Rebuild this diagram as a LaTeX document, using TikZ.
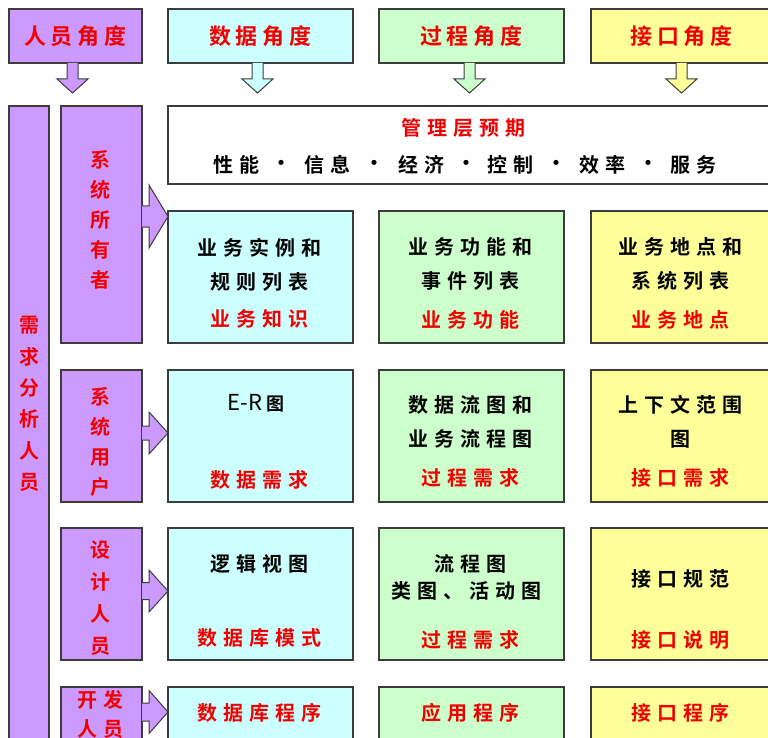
\documentclass[tikz,border=0pt]{standalone}
\usepackage{fontspec}
\setmainfont{Noto Sans CJK SC}[BoldFont={Noto Sans CJK SC Bold}]
\usetikzlibrary{calc}
\definecolor{pur}{RGB}{204,153,255}
\definecolor{cy}{RGB}{204,255,255}
\definecolor{gr}{RGB}{204,255,204}
\definecolor{ye}{RGB}{255,255,153}
\definecolor{bord}{RGB}{60,60,60}
\definecolor{rd}{RGB}{240,0,0}
\newlength\lsgap
\setlength\lsgap{7pt}
\def\ls#1{\lsFirst#1\relax}
\def\lsFirst#1{#1\lsRest}
\def\lsRest#1{\ifx#1\relax\else\hspace{\lsgap}#1\expandafter\lsRest\fi}
\newcommand\hdfont{\fontsize{22}{26}\selectfont\bfseries\setlength\lsgap{5pt}}
\newcommand\bdfont{\fontsize{20}{24}\selectfont\bfseries\setlength\lsgap{6pt}}
\newcommand\bx[7]{\node[bx,#2,minimum width={(#5-#3)*1pt},minimum height={(#6-#4)*1pt}] (#1) at ({(#3+#5)/2},{(#4+#6)/2}) {#7};}
\newcommand\darrow[3]{\filldraw[arr,#3] ($(#1)+(#2,0)$) ++(-5.5,0) -- ++(0,16) -- ++(-10,0) -- ++(15.5,14) -- ++(15.5,-14) -- ++(-10,0) -- ++(0,-16);}
\newcommand\rarrow[7]{\filldraw[arr,#7] ($(#1)+(0,#2)$) ++(0,-#3) -- ++(#5,0) -- ++(0,{#3-#4}) -- ++(#6,#4) -- ++(-#6,#4) -- ++(0,{#3-#4}) -- ++(-#5,0);}
\begin{document}
\begin{tikzpicture}[x=1pt,y=-1pt,
  bx/.style={draw=bord, line width=1.1pt, inner sep=0, outer sep=0},
  hd/.style={font=\hdfont, text=rd},
  tx/.style={inner sep=0, font=\bdfont},
  rt/.style={tx, text=rd},
  bk/.style={tx, text=black},
  vt/.style={inner sep=0, align=center, text=rd},
  arr/.style={draw=bord, line width=1pt, line join=miter}]
\fill[white] (0,0) rectangle (768,738);
\useasboundingbox (0,0) rectangle (768,738);
% header boxes
\bx{h1}{fill=pur,hd}{9}{9}{142}{63}{\ls{人员角度}}
\bx{h2}{fill=cy,hd}{168}{9}{353}{63}{\ls{数据角度}}
\bx{h3}{fill=gr,hd}{379}{9}{564}{63}{\ls{过程角度}}
\bx{h4}{fill=ye,hd}{591}{9}{772}{63}{\ls{接口角度}}
% down arrows
\darrow{h1.south}{-3}{fill=pur}
\darrow{h2.south}{-3}{fill=cy}
\darrow{h3.south}{-2}{fill=gr}
\darrow{h4.south}{0}{fill=ye}
% top white box
\bx{top}{fill=white}{168}{106}{772}{184}{}
% people columns
\bx{need}{fill=pur}{9}{106}{49}{745}{}
\bx{s1}{fill=pur}{61}{106}{142}{343}{}
\bx{s2}{fill=pur}{61}{370}{142}{502}{}
\bx{s3}{fill=pur}{61}{528}{142}{660}{}
\bx{s4}{fill=pur}{61}{687}{142}{745}{}
% content boxes
\bx{d1}{fill=cy}{168}{211}{353}{343}{}
\bx{p1}{fill=gr}{379}{211}{564}{343}{}
\bx{i1}{fill=ye}{591}{211}{772}{343}{}
\bx{d2}{fill=cy}{168}{370}{353}{502}{}
\bx{p2}{fill=gr}{379}{370}{564}{502}{}
\bx{i2}{fill=ye}{591}{370}{772}{502}{}
\bx{d3}{fill=cy}{168}{528}{353}{660}{}
\bx{p3}{fill=gr}{379}{528}{564}{660}{}
\bx{i3}{fill=ye}{591}{528}{772}{660}{}
\bx{d4}{fill=cy}{168}{687}{353}{745}{}
\bx{p4}{fill=gr}{379}{687}{564}{745}{}
\bx{i4}{fill=ye}{591}{687}{772}{745}{}
% right arrows
\rarrow{s1.east}{-8}{10.5}{31.5}{7}{19}{fill=pur}
\rarrow{s2.east}{-3}{7}{21}{7}{19}{fill=pur}
\rarrow{s3.east}{-3}{8.5}{21}{7}{19}{fill=pur}
\rarrow{s4.east}{-4}{9}{21.5}{7}{19}{fill=pur}
% top box texts
\node[rt] (tm) at (463,128) {\ls{管理层预期}};
\foreach \t/\x [count=\i] in {性能/236, 信息/327, 经济/421, 控制/510, 效率/602, 服务/693}
  \node[bk] (k\i) at (\x,165) {\expandafter\ls\expandafter{\t}};
\foreach \x [count=\i] in {281, 374, 466, 556, 648}
  \node[bk] (dt\i) at (\x,165) {·};
% vertical texts
\node[vt, font={\fontsize{20}{31.4}\selectfont\bfseries}] (vneed) at (29,404) {需\\求\\分\\析\\人\\员};
\node[vt, font={\fontsize{20}{30}\selectfont\bfseries}] (v1) at (100,220) {系\\统\\所\\有\\者};
\node[vt, font={\fontsize{20}{30}\selectfont\bfseries}] (v2) at (100,442) {系\\统\\用\\户};
\node[vt, font={\fontsize{20}{32}\selectfont\bfseries}] (v3) at (100,598) {设\\计\\人\\员};
\node[vt, font={\fontsize{20}{29}\selectfont\bfseries\setlength\lsgap{6pt}}] (v4) at (100,714) {\ls{开发}\\\ls{人员}};
% row 1
\node[bk] (d1a) at (259,248) {\ls{业务实例和}};
\node[bk] (d1b) at (259,282) {\ls{规则列表}};
\node[rt] (d1c) at (259,319) {\ls{业务知识}};
\node[bk] (p1a) at (470,247) {\ls{业务功能和}};
\node[bk] (p1b) at (470,281) {\ls{事件列表}};
\node[rt] (p1c) at (470,320) {\ls{业务功能}};
\node[bk] (i1a) at (680,247) {\ls{业务地点和}};
\node[bk] (i1b) at (680,281) {\ls{系统列表}};
\node[rt] (i1c) at (680,320) {\ls{业务地点}};
% row 2
\node[inner sep=0, text=black] (d2a) at (256,403) {\fontsize{22}{26}\selectfont E-R\,\fontsize{18}{20}\selectfont\bfseries 图};
\node[rt] (d2c) at (259,480) {\ls{数据需求}};
\node[bk] (p2a) at (470,405) {\ls{数据流图和}};
\node[bk] (p2b) at (470,439) {\ls{业务流程图}};
\node[rt] (p2c) at (470,478) {\ls{过程需求}};
\node[bk] (i2a) at (680,405) {\ls{上下文范围}};
\node[bk] (i2b) at (680,439) {图};
\node[rt] (i2c) at (680,478) {\ls{接口需求}};
% row 3
\node[bk] (d3a) at (259,564) {\ls{逻辑视图}};
\node[rt] (d3c) at (259,638) {\ls{数据库模式}};
\node[bk] (p3a) at (470,564) {\ls{流程图}};
\node[bk] (p3b) at (466,591) {\ls{类图、活动图}};
\node[rt] (p3c) at (470,640) {\ls{过程需求}};
\node[bk] (i3a) at (680,579) {\ls{接口规范}};
\node[rt] (i3c) at (680,640) {\ls{接口说明}};
% row 4
\node[rt] (d4a) at (259,713) {\ls{数据库程序}};
\node[rt] (p4a) at (470,713) {\ls{应用程序}};
\node[rt] (i4a) at (680,713) {\ls{接口程序}};
\end{tikzpicture}
\end{document}
